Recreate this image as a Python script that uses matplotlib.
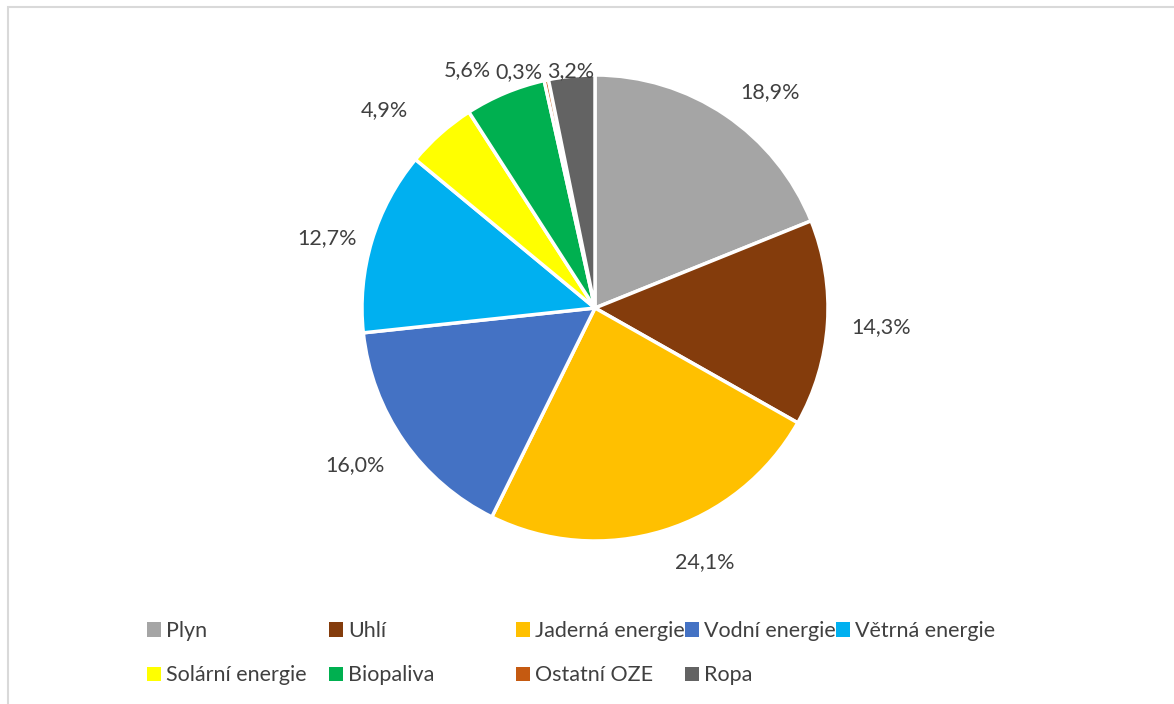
import matplotlib.pyplot as plt
import numpy as np
from matplotlib.patches import Rectangle

plt.rcParams['font.family'] = ['Lato', 'DejaVu Sans']

sources = ['Plyn', 'Uhlí', 'Jaderná energie', 'Vodní energie', 'Větrná energie',
           'Solární energie', 'Biopaliva', 'Ostatní OZE', 'Ropa']
shares = [18.9, 14.3, 24.1, 16.0, 12.7, 4.9, 5.6, 0.3, 3.2]
colors = ['#A5A5A5', '#843C0C', '#FFC000', '#4472C4', '#00B0F0',
          '#FFFF00', '#00B050', '#C55A11', '#636363']

W, H = 1174, 704
fig = plt.figure(figsize=(W / 100, H / 100), dpi=100)

# light chart-area frame (right/bottom edges run off the picture)
fig.patches.append(Rectangle((8 / W, -0.01), 1.02, 1 - 7 / H + 0.01,
                             transform=fig.transFigure, fill=False,
                             edgecolor='#D9D9D9', lw=1.5))

cx, cy, r = 595, 308, 233
ax = fig.add_axes([(cx - r) / W, 1 - (cy + r) / H, 2 * r / W, 2 * r / H])

wedges, _ = ax.pie(shares, colors=colors, startangle=90, counterclock=False,
                   radius=1, wedgeprops=dict(edgecolor='white', linewidth=2.5))
ax.set_xlim(-1, 1)
ax.set_ylim(-1, 1)
ax.set_aspect('equal')
ax.axis('off')

# percentage labels outside the wedges (radius factor, angle nudge in degrees)
dist = [1.19, 1.23, 1.19, 1.23, 1.19, 1.24, 1.16, 1.064, 1.02]
shift = [-5, 0, 6.3, -1.7, 2.1, 5.1, 5.6, 5.7, 0]
for w, v, d, s in zip(wedges, shares, dist, shift):
    ang = np.deg2rad((w.theta1 + w.theta2) / 2 + s)
    ax.text(d * np.cos(ang), d * np.sin(ang), f'{v:.1f}%'.replace('.', ','),
            ha='center', va='center', fontsize=15.5, color='#404040', clip_on=False)

# legend: Excel-like grid, 5 columns x 2 rows, filled row by row
handles = [Rectangle((0, 0), 1, 1, facecolor=c) for c in colors]
col_x = [147, 329, 516, 685, 836]
for j, x in enumerate(col_x):
    idx = list(range(j, len(sources), 5))
    fig.legend([handles[i] for i in idx], [sources[i] for i in idx],
               loc='upper left', bbox_to_anchor=(x / W, 1 - 621 / H),
               frameon=False, fontsize=15.5, handlelength=0.64, handleheight=0.64,
               handletextpad=0.25, labelspacing=1.13, borderpad=0,
               borderaxespad=0, labelcolor='#404040')

fig.savefig('out.png', dpi=100)
